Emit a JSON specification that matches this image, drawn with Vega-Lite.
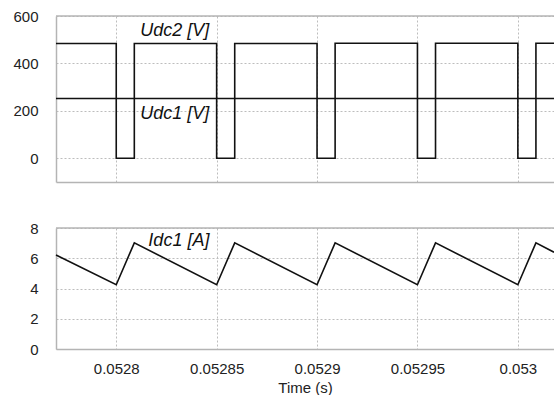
{
  "$schema": "https://vega.github.io/schema/vega-lite/v6.json",
  "background": "white",
  "padding": {"left": 12, "top": 9, "right": 0, "bottom": 0},
  "spacing": 39,
  "config": {
    "view": {"stroke": null},
    "font": "Liberation Sans",
    "axis": {
      "labelFont": "Liberation Sans",
      "labelFontSize": 15,
      "labelColor": "#222222",
      "labelOverlap": false,
      "ticks": false,
      "tickSize": 0,
      "domainColor": "#b4b4b4",
      "domainWidth": 1.5,
      "gridColor": "#bdbdbd",
      "gridDash": [2, 2],
      "gridWidth": 1,
      "titleFont": "Liberation Sans",
      "titleFontSize": 15,
      "titleFontWeight": "normal",
      "titleColor": "#222222"
    }
  },
  "datasets": {
    "udc2": [
      {"i": 0, "t": 0.05277, "v": 484},
      {"i": 1, "t": 0.0528, "v": 484},
      {"i": 2, "t": 0.0528, "v": 0},
      {"i": 3, "t": 0.052809, "v": 0},
      {"i": 4, "t": 0.052809, "v": 484},
      {"i": 5, "t": 0.05285, "v": 484},
      {"i": 6, "t": 0.05285, "v": 0},
      {"i": 7, "t": 0.052859, "v": 0},
      {"i": 8, "t": 0.052859, "v": 484},
      {"i": 9, "t": 0.0529, "v": 484},
      {"i": 10, "t": 0.0529, "v": 0},
      {"i": 11, "t": 0.052909, "v": 0},
      {"i": 12, "t": 0.052909, "v": 485},
      {"i": 13, "t": 0.05295, "v": 485},
      {"i": 14, "t": 0.05295, "v": 0},
      {"i": 15, "t": 0.052959, "v": 0},
      {"i": 16, "t": 0.052959, "v": 485},
      {"i": 17, "t": 0.053, "v": 485},
      {"i": 18, "t": 0.053, "v": 0},
      {"i": 19, "t": 0.053009, "v": 0},
      {"i": 20, "t": 0.053009, "v": 485},
      {"i": 21, "t": 0.053018, "v": 485}
    ],
    "udc1": [
      {"i": 0, "t": 0.05277, "v": 252},
      {"i": 1, "t": 0.053018, "v": 252}
    ],
    "idc1": [
      {"i": 0, "t": 0.05277, "v": 6.22},
      {"i": 1, "t": 0.0528, "v": 4.25},
      {"i": 2, "t": 0.052809, "v": 7.02},
      {"i": 3, "t": 0.05285, "v": 4.25},
      {"i": 4, "t": 0.052859, "v": 7.02},
      {"i": 5, "t": 0.0529, "v": 4.25},
      {"i": 6, "t": 0.052909, "v": 7.02},
      {"i": 7, "t": 0.05295, "v": 4.25},
      {"i": 8, "t": 0.052959, "v": 7.02},
      {"i": 9, "t": 0.053, "v": 4.25},
      {"i": 10, "t": 0.053009, "v": 7.02},
      {"i": 11, "t": 0.053018, "v": 6.4}
    ],
    "toplabels": [
      {"t": 0.052812, "v": 514, "label": "Udc2 [V]"},
      {"t": 0.052812, "v": 164, "label": "Udc1 [V]"}
    ],
    "botlabels": [
      {"t": 0.052816, "v": 6.81, "label": "Idc1 [A]"}
    ],
    "topborder": [{"t": 0.05277, "t2": 0.053018, "v": 600}],
    "botborder": [{"t": 0.05277, "t2": 0.053018, "v": 8}]
  },
  "vconcat": [
    {
      "width": 498,
      "height": 166,
      "encoding": {
        "x": {"field": "t", "type": "quantitative",
              "scale": {"domain": [0.05277, 0.053018], "nice": false, "zero": false},
              "axis": {"values": [0.0528, 0.05285, 0.0529, 0.05295, 0.053], "labels": false, "title": null, "grid": true}},
        "y": {"field": "v", "type": "quantitative",
              "scale": {"domain": [-100, 600], "nice": false, "zero": false},
              "axis": {"values": [0, 200, 400, 600], "title": null, "grid": true, "labelPadding": 18}}
      },
      "layer": [
        {
          "data": {"name": "udc2"},
          "mark": {"type": "line", "color": "#111111", "strokeWidth": 1.6},
          "encoding": {"order": {"field": "i", "type": "quantitative"}}
        },
        {
          "data": {"name": "udc1"},
          "mark": {"type": "line", "color": "#111111", "strokeWidth": 1.6},
          "encoding": {"order": {"field": "i", "type": "quantitative"}}
        },
        {
          "data": {"name": "topborder"},
          "mark": {"type": "rule", "color": "#b4b4b4", "strokeWidth": 1.5},
          "encoding": {"x2": {"field": "t2"}}
        },
        {
          "data": {"name": "toplabels"},
          "mark": {"type": "text", "align": "left", "baseline": "alphabetic", "fontStyle": "italic", "fontSize": 18, "font": "Liberation Sans", "color": "#111111"},
          "encoding": {"text": {"field": "label"}}
        }
      ]
    },
    {
      "width": 498,
      "height": 121,
      "encoding": {
        "x": {"field": "t", "type": "quantitative",
              "scale": {"domain": [0.05277, 0.053018], "nice": false, "zero": false},
              "axis": {"values": [0.0528, 0.05285, 0.0529, 0.05295, 0.053], "format": "~g", "title": "Time (s)", "grid": true, "labelPadding": 12, "titlePadding": 4}},
        "y": {"field": "v", "type": "quantitative",
              "scale": {"domain": [0, 8], "nice": false, "zero": false},
              "axis": {"values": [0, 2, 4, 6, 8], "title": null, "grid": true, "labelPadding": 18}}
      },
      "layer": [
        {
          "data": {"name": "idc1"},
          "mark": {"type": "line", "color": "#111111", "strokeWidth": 1.6},
          "encoding": {"order": {"field": "i", "type": "quantitative"}}
        },
        {
          "data": {"name": "botborder"},
          "mark": {"type": "rule", "color": "#b4b4b4", "strokeWidth": 1.5},
          "encoding": {"x2": {"field": "t2"}}
        },
        {
          "data": {"name": "botlabels"},
          "mark": {"type": "text", "align": "left", "baseline": "alphabetic", "fontStyle": "italic", "fontSize": 18, "font": "Liberation Sans", "color": "#111111"},
          "encoding": {"text": {"field": "label"}}
        }
      ]
    }
  ]
}
